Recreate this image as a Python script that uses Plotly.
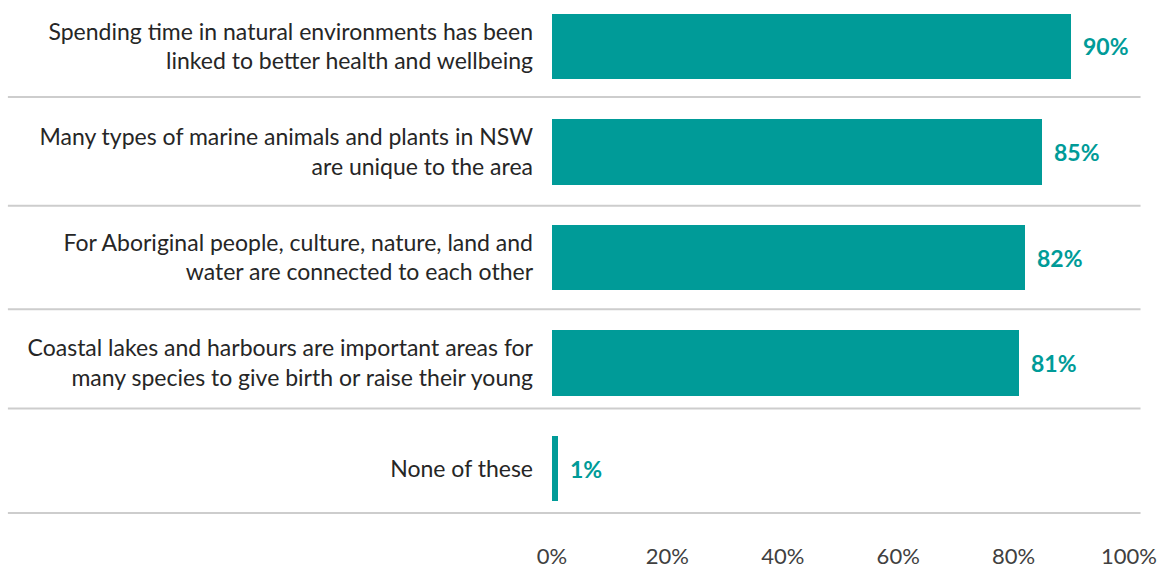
import plotly.graph_objects as go

statements = [
    "Spending time in natural environments has been<br>linked to better health and wellbeing",
    "Many types of marine animals and plants in NSW<br>are unique to the area",
    "For Aboriginal people, culture, nature, land and<br>water are connected to each other",
    "Coastal lakes and harbours are important areas for<br>many species to give birth or raise their young",
    "None of these",
]
shares = [0.90, 0.85, 0.82, 0.81, 0.01]
tick_values = [0, 0.2, 0.4, 0.6, 0.8, 1.0]
tick_labels = ["0%", "20%", "40%", "60%", "80%", "100%"]

TEAL = "#009B98"
FONT = "Lato, 'Open Sans', sans-serif"

rows = list(range(len(statements)))

fig = go.Figure(
    go.Bar(
        x=shares,
        y=rows,
        orientation="h",
        marker=dict(color=TEAL, line=dict(width=0)),
        width=0.62,
        hoverinfo="skip",
    )
)

# value labels to the right of each bar
for r, v in zip(rows, shares):
    fig.add_annotation(
        x=v, y=r, xref="x", yref="y",
        text=f"<b>{round(v * 100)}%</b>",
        showarrow=False, xanchor="left", xshift=10,
        font=dict(family=FONT, size=23, color=TEAL),
    )

# grey separators between statements, running under the label column
separators = [0.48, 1.51, 2.49, 3.43, 4.42]
for s in separators:
    fig.add_shape(
        type="line", xref="paper", yref="y",
        x0=-0.943, x1=1.02, y0=s, y1=s,
        line=dict(color="#CDCDCD", width=2),
    )

fig.update_layout(
    width=1159, height=568,
    margin=dict(l=552, r=30, t=0, b=53, autoexpand=False),
    paper_bgcolor="white", plot_bgcolor="white",
    showlegend=False,
    bargap=0,
    xaxis=dict(
        range=[0, 1], tickvals=tick_values, ticktext=tick_labels,
        showgrid=False, zeroline=False, showline=False,
        ticks="", ticklabelstandoff=26, automargin=False,
        tickfont=dict(family=FONT, size=22, color="#404040"),
        fixedrange=True,
    ),
    yaxis=dict(
        range=[4.44, -0.44], tickvals=rows, ticktext=statements,
        showgrid=False, zeroline=False, showline=False,
        ticks="", ticklabelstandoff=18, automargin=False,
        tickfont=dict(family=FONT, size=23, color="#262626"),
        fixedrange=True,
    ),
)

fig.write_html("out.html")
